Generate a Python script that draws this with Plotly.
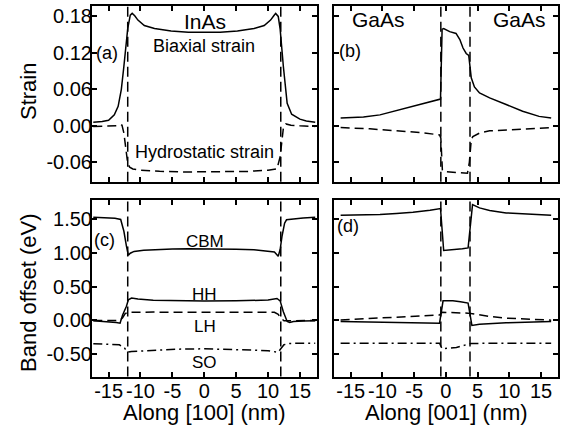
import plotly.graph_objects as go

# ---------------- data ----------------
# (a) strain along [100]
a_biax_x = [-17.4, -16.0, -15.0, -14.1, -13.5, -13.0, -12.6, -12.2, -12.0, -11.6, -11.3, -10.9,
            -10.4, -9.4, -7.8, -5.2, -2.5, 0.0, 2.5, 5.2, 7.8, 9.4, 10.4, 10.9, 11.2, 11.6,
            11.9, 12.4, 13.0, 13.7, 15.0, 16.0, 17.4]
a_biax_y = [0.006, 0.007, 0.009, 0.018, 0.032, 0.060, 0.098, 0.137, 0.160, 0.182, 0.185, 0.181,
            0.174, 0.165, 0.160, 0.156, 0.154, 0.154, 0.154, 0.156, 0.160, 0.165, 0.174, 0.181,
            0.185, 0.180, 0.159, 0.098, 0.037, 0.019, 0.011, 0.008, 0.006]
a_hydro_x = [-17.4, -15.0, -13.6, -13.2, -12.9, -12.6, -12.3, -12.0, -11.7, -11.2, -10.0, -7.0,
             -3.0, 0.0, 3.0, 7.0, 10.0, 11.4, 11.9, 12.2, 12.4, 12.8, 13.6, 15.0, 17.4]
a_hydro_y = [-0.001, -0.001, 0.000, 0.002, 0.001, -0.012, -0.035, -0.062, -0.068, -0.071, -0.073,
             -0.075, -0.076, -0.076, -0.076, -0.075, -0.073, -0.071, -0.051, -0.023, -0.004,
             0.003, 0.001, 0.000, -0.001]

# (b) strain along [001]
b_biax_x = [-16.6, -13.0, -10.4, -7.8, -5.2, -2.5, -0.85, -0.6, -0.35, 0.6, 1.6, 2.2, 2.7, 3.2,
            3.6, 4.0, 4.5, 5.3, 6.9, 9.5, 12.1, 14.7, 16.6]
b_biax_y = [0.0127, 0.0143, 0.018, 0.025, 0.033, 0.040, 0.044, 0.159, 0.160, 0.155, 0.152, 0.142,
            0.128, 0.119, 0.116, 0.079, 0.064, 0.054, 0.046, 0.035, 0.024, 0.0155, 0.0127]
b_hydro_x = [-16.6, -12.0, -8.0, -4.0, -1.0, -0.8, -0.55, 0.0, 2.0, 3.4, 3.7, 4.0, 4.25, 5.3,
             6.9, 9.5, 12.1, 14.5, 16.6]
b_hydro_y = [-0.003, -0.005, -0.008, -0.011, -0.015, -0.020, -0.074, -0.0755, -0.077, -0.078,
             -0.060, -0.023, -0.0177, -0.012, -0.0083, -0.0066, -0.0048, -0.0035, -0.003]

# (c) band offsets along [100]
c_cbm_x = [-17.4, -15.5, -14.0, -13.1, -12.6, -12.2, -11.9, -11.6, -11.0, -9.5, -7.8, -5.0, -2.5,
           0.0, 2.5, 5.0, 7.8, 9.5, 11.0, 11.6, 11.9, 12.2, 12.6, 12.9, 14.0, 15.5, 17.4]
c_cbm_y = [1.527, 1.522, 1.512, 1.495, 1.32, 1.10, 0.965, 0.995, 1.022, 1.038, 1.047, 1.056, 1.060,
           1.061, 1.060, 1.055, 1.045, 1.033, 1.013, 0.950, 1.05, 1.25, 1.44, 1.49, 1.505, 1.518,
           1.527]
c_hh_x = [-17.4, -15.0, -13.8, -13.2, -12.8, -12.2, -11.9, -11.4, -10.4, -8.0, -5.0, 0.0, 5.0, 8.0,
          10.0, 11.4, 11.9, 12.4, 13.0, 13.4, 14.0, 15.5, 17.4]
c_hh_y = [-0.006, -0.015, -0.03, -0.04, 0.08, 0.21, 0.306, 0.33, 0.316, 0.298, 0.29, 0.287, 0.29,
          0.295, 0.302, 0.325, 0.29, 0.13, -0.016, -0.03, -0.016, -0.01, -0.006]
c_lh_x = [-17.4, -14.0, -13.2, -12.8, -12.4, -12.0, -11.5, -8.0, 0.0, 8.0, 11.0, 11.6, 12.0, 12.5,
          14.0, 17.4]
c_lh_y = [0.0, -0.005, 0.0, 0.04, 0.10, 0.12, 0.122, 0.123, 0.123, 0.123, 0.12, 0.09, 0.035,
          -0.005, -0.005, 0.0]
c_so_x = [-17.4, -14.0, -13.3, -12.5, -12.0, -11.4, -8.0, -4.0, 0.0, 4.0, 8.0, 10.0, 11.6, 12.0,
          12.5, 13.3, 17.4]
c_so_y = [-0.345, -0.35, -0.36, -0.41, -0.47, -0.46, -0.445, -0.425, -0.42, -0.425, -0.44, -0.45,
          -0.47, -0.42, -0.36, -0.34, -0.338]

# (d) band offsets along [001]
d_cbm_x = [-16.6, -13.0, -10.4, -7.8, -5.2, -2.5, -0.85, -0.35, 0.5, 1.65, 2.6, 3.5, 4.2, 5.3, 6.9,
           9.5, 12.1, 14.5, 16.6]
d_cbm_y = [1.556, 1.558, 1.567, 1.582, 1.600, 1.630, 1.656, 1.035, 1.04, 1.047, 1.06, 1.073, 1.715,
           1.666, 1.626, 1.592, 1.577, 1.565, 1.557]
d_hh_x = [-16.6, -8.0, -1.0, -0.45, 1.1, 2.3, 3.5, 4.1, 5.3, 9.5, 13.0, 16.6]
d_hh_y = [-0.016, -0.025, -0.04, 0.29, 0.29, 0.275, 0.257, -0.075, -0.055, -0.036, -0.025, -0.016]
d_lh_x = [-16.6, -10.4, -5.2, -1.0, -0.6, 1.5, 3.5, 4.2, 5.3, 6.9, 9.5, 12.1, 16.6]
d_lh_y = [0.008, 0.034, 0.058, 0.08, 0.12, 0.118, 0.108, 0.10, 0.083, 0.058, 0.034, 0.019, 0.004]
d_so_x = [-16.6, -1.0, -0.6, 1.65, 3.5, 4.0, 16.6]
d_so_y = [-0.337, -0.337, -0.42, -0.40, -0.352, -0.34, -0.337]

# interface positions (nm)
iface_100 = [-12.0, 12.0]
iface_001 = [-0.8, 3.8]

x_ticks = [-15, -10, -5, 0, 5, 10, 15]
x_ticktext = ["-15", "-10", "-5", "0", "5", "10", "15"]
strain_ticks = [-0.06, 0.0, 0.06, 0.12, 0.18]
strain_ticktext = ["-0.06", "0.00", "0.06", "0.12", "0.18"]
band_ticks = [-0.5, 0.0, 0.5, 1.0, 1.5]
band_ticktext = ["-0.50", "0.00", "0.50", "1.00", "1.50"]

# ---------------- figure ----------------
FONT = "Liberation Sans, Arial, Helvetica, sans-serif"
W, H = 566, 428
LW = 1.5
SOLID = dict(color="black", width=LW)
DASH = dict(color="black", width=LW, dash="9px,5px")
DASHDOT = dict(color="black", width=LW, dash="9px,4px,2px,4px")

fig = go.Figure()

def add(x, y, line, xa, ya):
    fig.add_trace(go.Scatter(x=x, y=y, mode="lines", line=line, xaxis=xa, yaxis=ya,
                             showlegend=False, hoverinfo="skip"))

add(a_biax_x, a_biax_y, SOLID, "x", "y")
add(a_hydro_x, a_hydro_y, DASH, "x", "y")
add(b_biax_x, b_biax_y, SOLID, "x2", "y2")
add(b_hydro_x, b_hydro_y, DASH, "x2", "y2")
add(c_cbm_x, c_cbm_y, SOLID, "x3", "y3")
add(c_hh_x, c_hh_y, SOLID, "x3", "y3")
add(c_lh_x, c_lh_y, DASH, "x3", "y3")
add(c_so_x, c_so_y, DASHDOT, "x3", "y3")
add(d_cbm_x, d_cbm_y, SOLID, "x4", "y4")
add(d_hh_x, d_hh_y, SOLID, "x4", "y4")
add(d_lh_x, d_lh_y, DASH, "x4", "y4")
add(d_so_x, d_so_y, DASHDOT, "x4", "y4")

# dashed interface lines spanning the full panel height
for xa, ya, pos in [("x", "y", iface_100), ("x3", "y3", iface_100),
                    ("x2", "y2", iface_001), ("x4", "y4", iface_001)]:
    for xv in pos:
        fig.add_shape(type="line", xref=xa, yref=f"{ya} domain", x0=xv, x1=xv, y0=0, y1=1,
                      line=dict(color="black", width=LW, dash="10px,5px"))

left_dom = [92 / W, 316.5 / W]
right_dom = [334.3 / W, 557.5 / W]
top_dom = [1 - 181.7 / H, 1 - 5.5 / H]
bot_dom = [1 - 376.5 / H, 1 - 199.5 / H]

common = dict(showline=True, linewidth=2, linecolor="black", mirror="ticks", ticks="inside",
              ticklen=5, tickwidth=1.5, tickcolor="black", showgrid=False, zeroline=False,
              tickfont=dict(family=FONT, size=20, color="black"))

def xax(dom, anchor, labels):
    return dict(domain=dom, anchor=anchor, range=[-17.6, 17.6], tickvals=x_ticks,
                ticktext=x_ticktext, showticklabels=labels, ticklabelstandoff=-5, **common)

def yax(dom, anchor, rng, vals, text, labels):
    return dict(domain=dom, anchor=anchor, range=rng, tickvals=vals, ticktext=text,
                showticklabels=labels, ticklabelstandoff=-6, **common)

strain_rng = [-0.092, 0.198]
band_rng = [-0.83, 1.79]

fig.update_layout(
    width=W, height=H,
    margin=dict(l=0, r=0, t=0, b=0),
    paper_bgcolor="white", plot_bgcolor="white",
    font=dict(family=FONT, color="black"),
    xaxis=xax(left_dom, "y", False),
    xaxis2=xax(right_dom, "y2", False),
    xaxis3=xax(left_dom, "y3", True),
    xaxis4=xax(right_dom, "y4", True),
    yaxis=yax(top_dom, "x", strain_rng, strain_ticks, strain_ticktext, True),
    yaxis2=yax(top_dom, "x2", strain_rng, strain_ticks, strain_ticktext, False),
    yaxis3=yax(bot_dom, "x3", band_rng, band_ticks, band_ticktext, True),
    yaxis4=yax(bot_dom, "x4", band_rng, band_ticks, band_ticktext, False),
)

def label(text, x, y, xa, ya, size):
    fig.add_annotation(text=text, x=x, y=y, xref=xa, yref=ya, showarrow=False,
                       xanchor="center", yanchor="middle",
                       font=dict(family=FONT, size=size, color="black"))

label("InAs", 0.1, 0.172, "x", "y", 21)
label("Biaxial strain", 0.0, 0.131, "x", "y", 18)
label("Hydrostatic strain", 0.1, -0.0425, "x", "y", 18)
label("(a)", -15.3, 0.12, "x", "y", 18)
label("GaAs", -10.7, 0.175, "x2", "y2", 21)
label("GaAs", 11.6, 0.175, "x2", "y2", 21)
label("(b)", -15.1, 0.123, "x2", "y2", 18)
label("CBM", 0.1, 1.17, "x3", "y3", 17)
label("HH", 0.1, 0.39, "x3", "y3", 17)
label("LH", 0.1, -0.09, "x3", "y3", 17)
label("SO", 0.1, -0.625, "x3", "y3", 17)
label("(c)", -15.7, 1.196, "x3", "y3", 18)
label("(d)", -15.4, 1.393, "x4", "y4", 18)

# axis titles
def title(text, x, y, angle=0):
    fig.add_annotation(text=text, x=x / W, y=1 - y / H, xref="paper", yref="paper",
                       showarrow=False, xanchor="center", yanchor="middle", textangle=angle,
                       font=dict(family=FONT, size=22, color="black"))

title("Strain", 28, 92, -90)
title("Band offset (eV)", 28, 293, -90)
title("Along [100] (nm)", 204, 412)
title("Along [001] (nm)", 446, 412)

fig.write_html("out.html")
